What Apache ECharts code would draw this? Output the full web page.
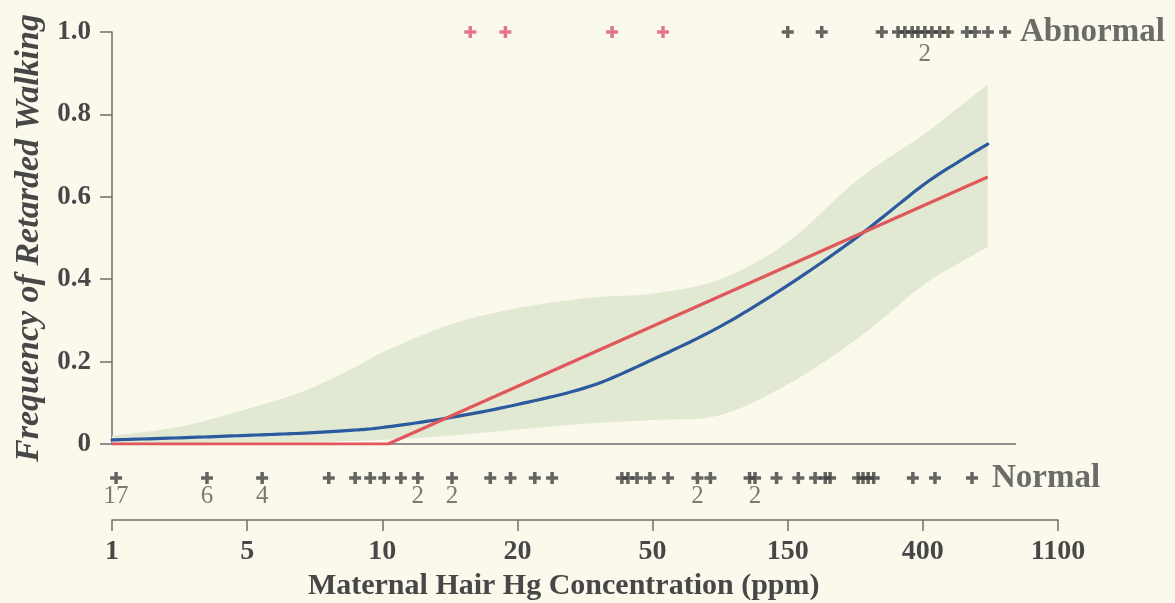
<!DOCTYPE html>
<html>
<head>
<meta charset="utf-8">
<script src="https://cdn.jsdelivr.net/npm/echarts@6/dist/echarts.min.js"></script>
<style>
  html, body { margin: 0; padding: 0; background: #fbf9eb; }
  #chart { width: 1175px; height: 603px; }
</style>
</head>
<body>
<div id="chart"></div>
<script>
// ---------------- data ----------------
const TICK_VALUES = [1, 5, 10, 20, 50, 150, 400, 1100];
const TICK_LABELS = ['1', '5', '10', '20', '50', '150', '400', '1100'];
const Y_TICK_LABELS = ['0', '0.2', '0.4', '0.6', '0.8', '1.0'];
const PLOT_MAX_PPM = 800;

// smooth-curve sample points (ppm)
const CURVE_PPM   = [1, 2.25, 5, 6.56, 8.47, 10, 14.15, 20, 32.7, 50, 86.5, 150, 248, 400, 528, 650];
const BLUE_FIT    = [0.010, 0.015, 0.021, 0.026, 0.033, 0.040, 0.064, 0.096, 0.14, 0.205, 0.285, 0.385, 0.502, 0.628, 0.687, 0.728];
const BAND_UPPER  = [0.02, 0.042, 0.085, 0.125, 0.18, 0.222, 0.29, 0.33, 0.355, 0.365, 0.40, 0.49, 0.64, 0.75, 0.82, 0.872];
const BAND_LOWER  = [0.002, 0.003, 0.004, 0.005, 0.007, 0.01, 0.02, 0.035, 0.05, 0.058, 0.07, 0.145, 0.255, 0.385, 0.44, 0.478];

// hockey-stick fit (ppm, frequency)
const RED_PPM = [1, 10.3, 650];
const RED_FIT = [0, 0, 0.648];

// observations
const NORMAL_PPM = [1.05, 3.1, 5.4, 7.6, 8.7, 9.4, 10.1, 11.0, 12.0, 14.3, 17.4, 19.3, 22.5, 25.3,
  40.6, 42.3, 45.0, 49.1, 56.7, 72, 80, 110, 115, 137, 162, 183, 197, 204, 250, 259, 269, 280, 372, 438, 578];
const NORMAL_COUNT = [17, 6, 4, 1, 1, 1, 1, 1, 2, 2, 1, 1, 1, 1,
  1, 1, 1, 1, 1, 2, 1, 1, 2, 1, 1, 1, 1, 1, 1, 1, 1, 1, 1, 1, 1];
const ABN_RED_PPM = [15.7, 18.8, 38, 54.4];
const ABN_PPM = [150, 192, 297, 334, 351, 370, 386, 406, 428, 454, 483, 556, 591, 651, 740];
const ABN_COUNT = [1, 1, 1, 1, 1, 1, 1, 2, 1, 1, 1, 1, 1, 1, 1];

// ---------------- helpers ----------------
const LOG_T = TICK_VALUES.map(Math.log);
function toAxis(v) {
  const lv = Math.log(v);
  let k = 0;
  while (k < LOG_T.length - 2 && lv > LOG_T[k + 1]) k++;
  return k + (lv - LOG_T[k]) / (LOG_T[k + 1] - LOG_T[k]);
}

// Catmull-Rom smoothing of screen points (render geometry only)
function smoothPts(p) {
  const out = [p[0]];
  for (let i = 0; i < p.length - 1; i++) {
    const p0 = p[Math.max(0, i - 1)], p1 = p[i], p2 = p[i + 1], p3 = p[Math.min(p.length - 1, i + 2)];
    for (let s = 1; s <= 12; s++) {
      const t = s / 12, t2 = t * t, t3 = t2 * t;
      out.push([0, 1].map(d => 0.5 * (2 * p1[d] + (-p0[d] + p2[d]) * t +
        (2 * p0[d] - 5 * p1[d] + 4 * p2[d] - p3[d]) * t2 +
        (-p0[d] + 3 * p1[d] - 3 * p2[d] + p3[d]) * t3)));
    }
  }
  return out;
}

const FONT = '"Liberation Serif", "DejaVu Serif", serif';
const TEXT = '#474747';
const AXIS = '#6f6f6f';
const BAND = '#e2e9d3';
const BLUE = '#2c5a9e';
const RED = '#e0575c';
const PLUS_BLACK = '#3e3e3e';
const PLUS_RED = '#d9586f';
const PLUS = 'path://M4.25,0h3.5v4.25h4.25v3.5h-4.25v4.25h-3.5v-4.25h-4.25v-3.5h4.25z';

const LEFT = 112;
const AXIS_W = 946;
const UNIT = AXIS_W / (TICK_VALUES.length - 1);

const pairs = (xs, ys) => xs.map((x, i) => [toAxis(x), ys[i]]);

const countLabel = (dist) => ({
  show: true, position: 'bottom', distance: dist,
  fontFamily: FONT, fontSize: 25, color: '#5a5a5a',
  formatter: p => (p.data.count > 1 ? String(p.data.count) : '')
});

const chart = echarts.init(document.getElementById('chart'), null, { renderer: 'canvas' });
chart.setOption({
  animation: false,
  backgroundColor: '#fbf9eb',
  grid: [
    { left: LEFT, top: 32, width: UNIT * toAxis(PLOT_MAX_PPM), height: 412, containLabel: false, outerBoundsMode: 'none' },
    { left: LEFT, top: 436, width: AXIS_W, height: 84, containLabel: false, outerBoundsMode: 'none' }
  ],
  xAxis: [
    {
      gridIndex: 0, type: 'value', min: 0, max: toAxis(PLOT_MAX_PPM),
      axisLine: { show: true, lineStyle: { color: AXIS, width: 1.5 } },
      axisTick: { show: false }, axisLabel: { show: false }, splitLine: { show: false },
      name: 'Maternal Hair Hg Concentration (ppm)', nameLocation: 'middle', nameGap: 127,
      nameTextStyle: { fontFamily: FONT, fontWeight: 'bold', fontSize: 30, color: TEXT }
    },
    {
      gridIndex: 1, type: 'value', min: 0, max: TICK_VALUES.length - 1, interval: 1,
      axisLine: { show: true, lineStyle: { color: AXIS, width: 1.5 } },
      axisTick: { show: true, length: 11, lineStyle: { color: AXIS, width: 1.5 } },
      axisLabel: {
        margin: 18, fontFamily: FONT, fontWeight: 'bold', fontSize: 28, color: TEXT,
        formatter: v => TICK_LABELS[Math.round(v)]
      },
      splitLine: { show: false }
    }
  ],
  yAxis: [
    {
      gridIndex: 0, type: 'value', min: 0, max: 1, interval: 0.2,
      axisLine: { show: true, lineStyle: { color: AXIS, width: 1.5 } },
      axisTick: { show: true, length: 12, lineStyle: { color: AXIS, width: 1.5 } },
      axisLabel: {
        margin: 21, fontFamily: FONT, fontWeight: 'bold', fontSize: 27, color: TEXT,
        formatter: v => Y_TICK_LABELS[Math.round(v / 0.2)]
      },
      splitLine: { show: false },
      name: 'Frequency of Retarded Walking', nameLocation: 'middle', nameGap: 66,
      nameTextStyle: { fontFamily: FONT, fontWeight: 'bold', fontStyle: 'italic', fontSize: 34, color: TEXT }
    },
    { gridIndex: 1, type: 'category', data: ['Normal'], show: false }
  ],
  series: [
    {
      name: 'band', type: 'custom', xAxisIndex: 0, yAxisIndex: 0, silent: true, z: 1,
      encode: { x: 0, y: 1 },
      data: CURVE_PPM.map((x, i) => [toAxis(x), BAND_LOWER[i], BAND_UPPER[i]]),
      renderItem: function (params, api) {
        if (params.dataIndexInside !== 0) return null;
        const up = smoothPts(CURVE_PPM.map((x, i) => api.coord([toAxis(x), BAND_UPPER[i]])));
        const lo = smoothPts(CURVE_PPM.map((x, i) => api.coord([toAxis(x), BAND_LOWER[i]])).reverse());
        return { type: 'polygon', shape: { points: up.concat(lo) }, style: { fill: BAND } };
      }
    },
    {
      name: 'logistic', type: 'custom', xAxisIndex: 0, yAxisIndex: 0, silent: true, z: 3,
      encode: { x: 0, y: 1 },
      data: pairs(CURVE_PPM, BLUE_FIT),
      renderItem: function (params, api) {
        if (params.dataIndexInside !== 0) return null;
        const pts = smoothPts(CURVE_PPM.map((x, i) => api.coord([toAxis(x), BLUE_FIT[i]])));
        return { type: 'polyline', shape: { points: pts },
          style: { stroke: BLUE, lineWidth: 3.2, fill: null, lineJoin: 'round', lineCap: 'round' } };
      }
    },
    {
      name: 'hockey', type: 'line', xAxisIndex: 0, yAxisIndex: 0, z: 4,
      data: pairs(RED_PPM, RED_FIT), showSymbol: false, silent: true,
      lineStyle: { color: RED, width: 3.2 }
    },
    {
      name: 'abnormal-red', type: 'scatter', xAxisIndex: 0, yAxisIndex: 0,
      symbol: PLUS, symbolSize: 12, itemStyle: { color: PLUS_RED },
      data: ABN_RED_PPM.map(v => [toAxis(v), 1])
    },
    {
      name: 'abnormal', type: 'scatter', xAxisIndex: 0, yAxisIndex: 0,
      symbol: PLUS, symbolSize: 12, itemStyle: { color: PLUS_BLACK },
      label: countLabel(4),
      data: ABN_PPM.map((v, i) => ({ value: [toAxis(v), 1], count: ABN_COUNT[i] }))
    },
    {
      name: 'abnormal-label', type: 'scatter', xAxisIndex: 0, yAxisIndex: 0,
      symbolSize: 0, silent: true,
      label: { show: true, position: 'right', distance: 15, formatter: 'Abnormal',
        fontFamily: FONT, fontWeight: 'bold', fontSize: 33, color: TEXT },
      data: [[toAxis(ABN_PPM[ABN_PPM.length - 1]), 1]]
    },
    {
      name: 'normal', type: 'scatter', xAxisIndex: 1, yAxisIndex: 1,
      symbol: PLUS, symbolSize: 12, itemStyle: { color: PLUS_BLACK },
      label: countLabel(0),
      data: NORMAL_PPM.map((v, i) => ({ value: [toAxis(v), 'Normal'], count: NORMAL_COUNT[i] }))
    },
    {
      name: 'normal-label', type: 'scatter', xAxisIndex: 1, yAxisIndex: 1,
      symbolSize: 0, silent: true,
      label: { show: true, position: 'right', distance: 20, formatter: 'Normal',
        fontFamily: FONT, fontWeight: 'bold', fontSize: 33, color: TEXT },
      data: [[toAxis(NORMAL_PPM[NORMAL_PPM.length - 1]), 'Normal']]
    }
  ]
});
</script>
</body>
</html>
